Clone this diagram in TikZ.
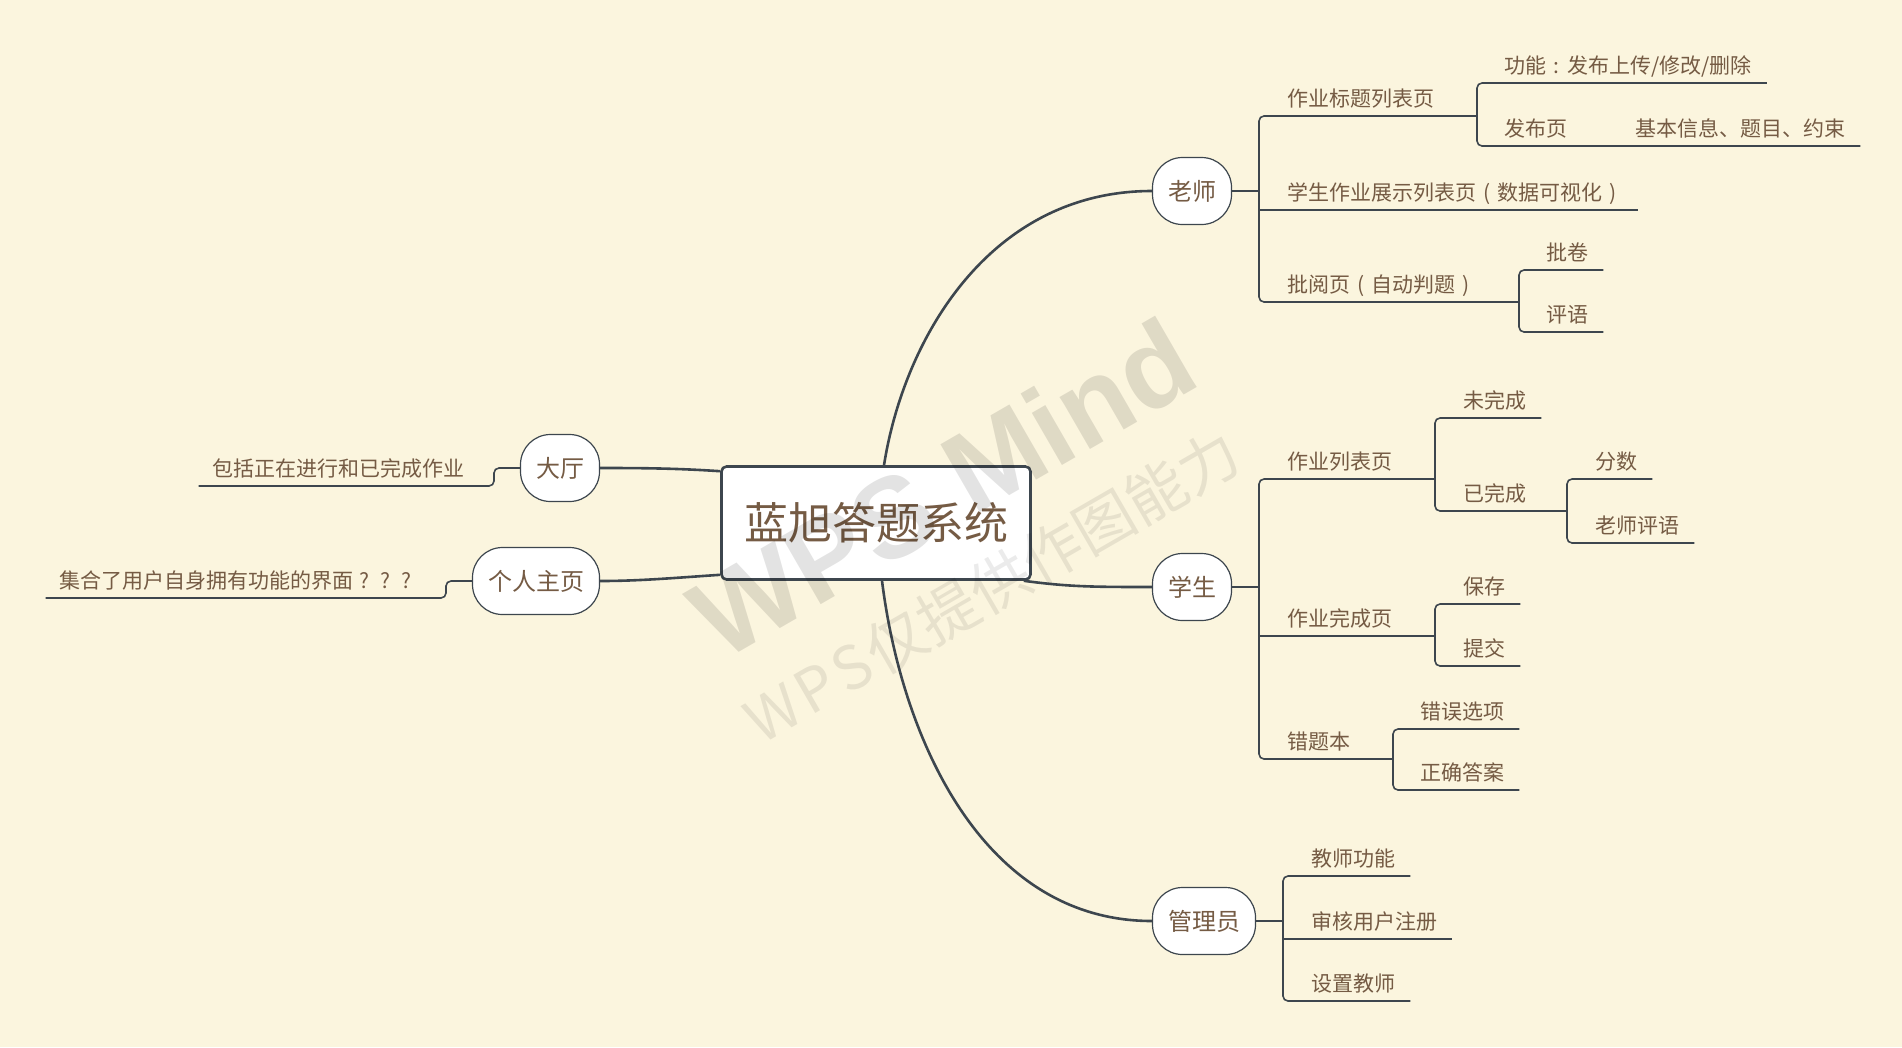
\documentclass[tikz,border=0pt]{standalone}
\usepackage{fontspec}
\newfontfamily\cjk{Noto Sans CJK SC}
\setsansfont{Liberation Sans}

\definecolor{paper}{RGB}{251,245,222}
\definecolor{ink}{RGB}{117,91,68}
\definecolor{wire}{RGB}{61,70,78}

% full-width slot with the sign centred in it
\newcommand{\fw}[1]{\makebox[1em]{#1}}

\tikzset{
  root/.style={draw=wire, line width=2.6pt, fill=white, rounded corners=5pt,
    minimum width=309pt, minimum height=113pt, text=ink,
    font=\cjk\fontsize{44}{44}\selectfont},
  topic/.style={draw=wire, line width=1.2pt, fill=white, rounded corners=30pt,
    minimum width=79pt, minimum height=67pt, inner xsep=15.5pt, text=ink,
    font=\cjk\fontsize{24}{24}\selectfont},
  leaf/.style={anchor=south west, inner sep=0pt, text depth=9pt, text=ink,
    font=\cjk\fontsize{21}{21}\selectfont},
  leafL/.style={leaf, anchor=south east},
  limb/.style={draw=wire, line width=2.6pt},
  twig/.style={draw=wire, line width=1.6pt, rounded corners=5pt},
  wmark/.style={rotate=30, text=black},
}

\begin{document}
\begin{tikzpicture}[x=1pt, y=-1pt]
        % Paper
        \fill[paper] (0,0) rectangle (1902,1047);
        \useasboundingbox (0,0) rectangle (1902,1047);

        % Root and main topics
        \node[root] (root) at (876,523) {蓝旭答题系统};
        \node[topic] (teach) at (1192,191) {老师};
        \node[topic] (stud) at (1192,587) {学生};
        \node[topic] (admin) at (1204,921) {管理员};
        \node[topic] (hall) at (560,468) {大厅};
        \node[topic] (home) at (536,581) {个人主页};

        \draw[limb] ([xshift=8pt]root.north) .. controls +(20,-127) and +(-162,0) .. (teach.west);
        \draw[limb] ([xshift=-8pt]root.south east) .. controls +(45,6) and +(-60,0) .. (stud.west);
        \draw[limb] ([xshift=6pt]root.south) .. controls +(20,160) and +(-168,0) .. (admin.west);
        \draw[limb] ([yshift=-6pt]root.north west) .. controls +(-45,-3) and +(40,0) .. (hall.east);
        \draw[limb] ([yshift=6pt]root.south west) .. controls +(-45,3) and +(40,0) .. (home.east);

        % Left side
        \coordinate (hJ) at (494,486);
        \coordinate (pJ) at (446,598);
        \node[leafL] (h1) at (465,486) {包括正在进行和已完成作业};
        \node[leafL] (p1) at (417,598) {集合了用户自身拥有功能的界面\fw{?}\fw{?}\fw{?}};
        \draw[twig] (hall.west) -| (hJ) -- ([xshift=-14pt]h1.south west);
        \draw[twig] (home.west) -| (pJ) -- ([xshift=-14pt]p1.south west);

        % Teacher
        \coordinate (tJ) at (1259,191);
        \coordinate (t1J) at (1477,116);
        \coordinate (t3J) at (1519,302);
        \node[leaf] (t1) at (1287,116) {作业标题列表页};
        \node[leaf] (t2) at (1287,210) {学生作业展示列表页\fw{(}数据可视化\fw{)}};
        \node[leaf] (t3) at (1287,302) {批阅页\fw{(}自动判题\fw{)}};
        \draw[twig] (teach.east) -- (tJ);
        \draw[twig] (t1J) -- (tJ |- t1.south) -- (tJ |- t3.south) -- (t3J);
        \draw[twig] (tJ |- t2.south) -- ([xshift=15pt]t2.south east);

        \node[leaf] (t11) at (1504,83) {功能\fw{:}发布上传/修改/删除};
        \node[leaf] (t12) at (1504,146) {发布页};
        \node[leaf] (t121) at (1635,146) {基本信息、题目、约束};
        \draw[twig] ([xshift=15pt]t11.south east) -- (t1J |- t11.south) -- (t1J |- t12.south) -- ([xshift=15pt]t121.south east);

        \node[leaf] (t31) at (1546,270) {批卷};
        \node[leaf] (t32) at (1546,332) {评语};
        \draw[twig] ([xshift=15pt]t31.south east) -- (t3J |- t31.south) -- (t3J |- t32.south) -- ([xshift=15pt]t32.south east);

        % Student
        \coordinate (sJ) at (1259,587);
        \coordinate (s1J) at (1435,479);
        \coordinate (s2J) at (1435,636);
        \coordinate (s3J) at (1393,759);
        \coordinate (s12J) at (1567,511);
        \node[leaf] (s1) at (1287,479) {作业列表页};
        \node[leaf] (s2) at (1287,636) {作业完成页};
        \node[leaf] (s3) at (1287,759) {错题本};
        \draw[twig] (stud.east) -- (sJ);
        \draw[twig] (s1J) -- (sJ |- s1.south) -- (sJ |- s3.south) -- (s3J);
        \draw[twig] (sJ |- s2.south) -- (s2J);

        \node[leaf] (s11) at (1463,418) {未完成};
        \node[leaf] (s12) at (1463,511) {已完成};
        \draw[twig] ([xshift=15pt]s11.south east) -- (s1J |- s11.south) -- (s1J |- s12.south) -- (s12J);

        \node[leaf] (s121) at (1595,479) {分数};
        \node[leaf] (s122) at (1595,543) {老师评语};
        \draw[twig] ([xshift=15pt]s121.south east) -- (s12J |- s121.south) -- (s12J |- s122.south) -- ([xshift=15pt]s122.south east);

        \node[leaf] (s21) at (1463,604) {保存};
        \node[leaf] (s22) at (1463,666) {提交};
        \draw[twig] ([xshift=15pt]s21.south east) -- (s2J |- s21.south) -- (s2J |- s22.south) -- ([xshift=15pt]s22.south east);

        \node[leaf] (s31) at (1420,729) {错误选项};
        \node[leaf] (s32) at (1420,790) {正确答案};
        \draw[twig] ([xshift=15pt]s31.south east) -- (s3J |- s31.south) -- (s3J |- s32.south) -- ([xshift=15pt]s32.south east);

        % Admin
        \coordinate (aJ) at (1283,921);
        \node[leaf] (a1) at (1311,876) {教师功能};
        \node[leaf] (a2) at (1311,939) {审核用户注册};
        \node[leaf] (a3) at (1311,1001) {设置教师};
        \draw[twig] (admin.east) -- (aJ);
        \draw[twig] ([xshift=15pt]a1.south east) -- (aJ |- a1.south) -- (aJ |- a3.south) -- ([xshift=15pt]a3.south east);
        \draw[twig] (aJ |- a2.south) -- ([xshift=15pt]a2.south east);

        % Watermark
        \node[wmark, opacity=0.11, font=\sffamily\bfseries\fontsize{114}{114}\selectfont] (wm1) at (942,488) {WPS Mind};
        \node[wmark, opacity=0.08, font=\cjk\fontsize{60}{60}\selectfont] (wm2) at (992,586) {W\kern4pt P\kern4pt S\kern4pt 仅提供作图能力};
\end{tikzpicture}
\end{document}
